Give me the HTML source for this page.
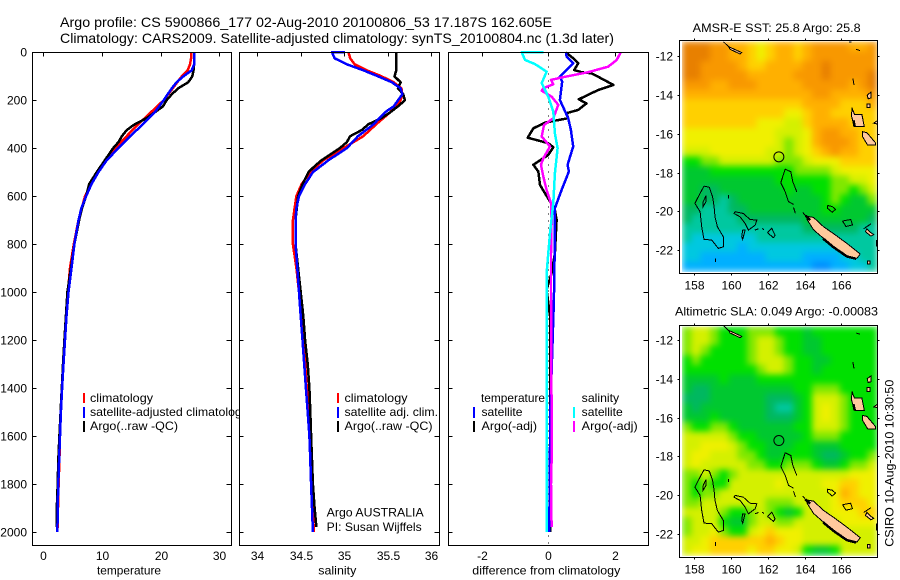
<!DOCTYPE html>
<html lang="en">
<head>
<meta charset="utf-8">
<title>Argo profile chart</title>
<style>
html,body{margin:0;padding:0;background:#fff}
svg{display:block;font-family:"Liberation Sans",sans-serif;fill:#000}
text{font-size:12px}
.ttl{font-size:14px}
</style>
</head>
<body>
<svg id="chart" width="900" height="580" viewBox="0 0 900 580" xmlns="http://www.w3.org/2000/svg">
<defs>
<filter id="smooth" filterUnits="objectBoundingBox" x="0" y="0" width="1" height="1" color-interpolation-filters="sRGB">
<feGaussianBlur stdDeviation="3.2" edgeMode="duplicate"/>
</filter>
</defs>
<rect width="900" height="580" fill="#fff"/>
<g id="p1"></g>
<g>
<rect x="83" y="393" width="2" height="10" fill="#f00"/>
<rect x="83" y="407" width="2" height="11" fill="#00f"/>
<rect x="83" y="421" width="2" height="11" fill="#000"/>
<text x="90" y="402" textLength="63" lengthAdjust="spacingAndGlyphs">climatology</text>
<text x="90" y="416" textLength="158" lengthAdjust="spacingAndGlyphs">satellite-adjusted climatology</text>
<text x="90" y="430" textLength="88" lengthAdjust="spacingAndGlyphs">Argo(..raw -QC)</text>
</g>
<g id="p2"></g>
<g>
<rect x="337" y="393" width="2" height="10" fill="#f00"/>
<rect x="337" y="407" width="2" height="11" fill="#00f"/>
<rect x="337" y="421" width="2" height="11" fill="#000"/>
<text x="344.5" y="402" textLength="63" lengthAdjust="spacingAndGlyphs">climatology</text>
<text x="344.5" y="416" textLength="93.5" lengthAdjust="spacingAndGlyphs">satellite adj. clim.</text>
<text x="344.5" y="430" textLength="88" lengthAdjust="spacingAndGlyphs">Argo(..raw -QC)</text>
<text x="326.7" y="516.5" textLength="97" lengthAdjust="spacingAndGlyphs">Argo AUSTRALIA</text>
<text x="326.7" y="531" textLength="95" lengthAdjust="spacingAndGlyphs">PI: Susan Wijffels</text>
</g>
<g id="p3"></g>
<g>
<text x="481" y="402" textLength="64" lengthAdjust="spacingAndGlyphs">temperature</text>
<text x="581.7" y="402" textLength="37.5" lengthAdjust="spacingAndGlyphs">salinity</text>
<rect x="473" y="407" width="2" height="11" fill="#00f"/>
<rect x="473" y="421" width="2" height="11" fill="#000"/>
<rect x="573" y="407" width="2" height="11" fill="#0ff"/>
<rect x="573" y="421" width="2" height="11" fill="#f0f"/>
<text x="481.5" y="416" textLength="41" lengthAdjust="spacingAndGlyphs">satellite</text>
<text x="481.5" y="430" textLength="55.5" lengthAdjust="spacingAndGlyphs">Argo(-adj)</text>
<text x="581.7" y="416" textLength="41" lengthAdjust="spacingAndGlyphs">satellite</text>
<text x="581.7" y="430" textLength="56" lengthAdjust="spacingAndGlyphs">Argo(-adj)</text>
</g>
<g id="m1"></g>
<g id="m2"></g>
<text class="ttl" x="60" y="27" textLength="492" lengthAdjust="spacingAndGlyphs">Argo profile: CS 5900866_177 02-Aug-2010 20100806_53 17.187S 162.605E</text>
<text class="ttl" x="60" y="43" textLength="554" lengthAdjust="spacingAndGlyphs">Climatology: CARS2009. Satellite-adjusted climatology: synTS_20100804.nc (1.3d later)</text>
<text x="97" y="574.5" textLength="64" lengthAdjust="spacingAndGlyphs">temperature</text>
<text x="318.3" y="574.5" textLength="38" lengthAdjust="spacingAndGlyphs">salinity</text>
<text x="472.3" y="574.5" textLength="148" lengthAdjust="spacingAndGlyphs">difference from climatology</text>
<text x="692.7" y="32" textLength="168" lengthAdjust="spacingAndGlyphs">AMSR-E SST: 25.8 Argo: 25.8</text>
<text x="675" y="315.5" textLength="203" lengthAdjust="spacingAndGlyphs">Altimetric SLA: 0.049 Argo: -0.00083</text>
<text transform="translate(893.5 546.7) rotate(-90)" textLength="167" lengthAdjust="spacingAndGlyphs">CSIRO 10-Aug-2010 10:30:50</text>
</svg>
<script>
// ---------- profile data ----------
const depthTicks = [0,200,400,600,800,1000,1200,1400,1600,1800,2000];
const tempTicks = [0,10,20,30];
const salTicks = [34,34.5,35,35.5,36];
const diffTicks = [-2,0,2];

const depthClim = [0,25,50,75,100,200,300,400,500,600,700,800,900,1000,1100,1200,1300,1400,1500,1600,1700,1800,1900,2000];
const tempClim = [25.2,25.2,25.0,24.6,23.6,20.5,16.2,12.2,9.1,7.1,6.0,5.2,4.55,4.2,3.9,3.65,3.4,3.2,3.0,2.85,2.75,2.6,2.5,2.4];
const depthTempArgo = [50,75,100,125,150,175,200,225,250,275,300,325,350,375,400,450,500,550,600,650,700,800,900,1000,1100,1200,1300,1400,1500,1600,1700,1800,1900,1980];
const tempArgo = [25.7,25.6,25.4,24.7,23,21.9,21,20.4,19,17.6,15.6,14.2,13.4,12.8,11.9,10.5,9.1,7.8,7.3,6.6,6.1,5.3,4.7,4.1,3.85,3.6,3.35,3.15,2.95,2.75,2.55,2.45,2.3,2.25];
const depthTempSat = [0,50,75,100,125,150,200,250,300,350,400,450,500,550,600,650,700,800,900,1000,1100,1200,1300,1400,1500,1600,1700,1800,1900,2000];
const tempSat = [25.7,25.7,25.3,23.9,22.7,21.9,20.5,19,17,14.8,12.8,10.8,9.4,8.2,7.3,6.5,6.0,5.3,4.8,4.3,3.95,3.7,3.45,3.2,3.0,2.85,2.7,2.55,2.45,2.4];

const salClimDepth = [0,25,50,75,100,125,150,175,200,225,250,300,350,400,450,500,550,600,650,700,800,900,1000,1100,1200,1300,1400,1500,1600,1700,1800,1900,2000];
const salClim = [35.05,35.07,35.12,35.26,35.43,35.57,35.66,35.67,35.65,35.58,35.53,35.37,35.22,34.99,34.76,34.61,34.51,34.45,34.43,34.41,34.41,34.45,34.48,34.51,34.53,34.55,34.57,34.59,34.61,34.62,34.63,34.64,34.65];
const salArgoDepth = [0,50,75,100,125,150,175,200,225,250,275,300,325,350,375,400,450,475,500,550,600,700,800,900,1000,1100,1200,1300,1400,1500,1600,1700,1800,1900,1980];
const salArgo = [35.6,35.6,35.6,35.58,35.65,35.62,35.68,35.7,35.62,35.53,35.43,35.28,35.2,35.07,35.03,34.95,34.74,34.66,34.59,34.52,34.47,34.44,34.44,34.47,34.5,34.53,34.55,34.58,34.6,34.61,34.62,34.63,34.64,34.66,34.68];
const salSatDepth = [0,0,25,50,75,100,125,150,175,200,225,250,300,350,400,450,500,550,600,650,700,800,900,1000,1100,1200,1300,1400,1500,1600,1700,1800,1900,2000];
const salSat = [35.01,34.86,34.89,35.03,35.22,35.39,35.55,35.65,35.67,35.62,35.57,35.47,35.34,35.16,35.03,34.82,34.64,34.55,34.48,34.45,34.44,34.44,34.46,34.48,34.5,34.52,34.54,34.56,34.58,34.6,34.61,34.62,34.63,34.64];

const diffTempArgoDepth = [0,25,46,74,83,88,136,157,196,213,240,254,275,293,317,356,379,396,428,469,497,553,588,629,657,699,838,921,990,1100,1500,2000];
const diffTempArgo = [.53,.75,.9,.78,1.0,1.31,1.96,1.51,.92,1.15,.9,.55,.6,-.1,-.45,-.62,0,.15,0,-.45,-.3,-.25,-.1,.08,.2,.25,.2,.1,-.05,.05,.05,.05];
const diffTempSatDepth = [0,18,46,101,122,199,275,324,393,469,497,574,650,782,921,1032,1500,2000];
const diffTempSat = [.53,.55,.75,.35,.42,.35,.6,.68,.75,.58,.62,.4,.2,.2,.18,.17,.06,.03];
const diffSalArgoDepth = [0,32,60,83,105,115,133,150,160,185,219,275,303,351,393,442,469,518,574,629,699,838,1032,1500,1700,1800,1980];
const diffSalArgo = [2.18,2.06,1.8,1.2,.4,.08,.15,-.15,-.2,.1,.3,.15,-.13,-.2,.05,-.15,-.22,-.15,-.05,.08,.1,.08,.08,.1,.1,.08,.1];
const diffSalSatDepth = [0,0,32,49,81,129,185,247,338,400,504,629,754,921,1032,2000];
const diffSalSat = [-.15,-.8,-.7,-.4,-.05,-.2,0,.15,.2,.28,.2,.15,.05,-.05,-.05,-.05];

// ---------- map data ----------
const lonTicks = [158,160,162,164,166];
const latTicks = [-12,-14,-16,-18,-20,-22];
const floatLon = 162.605;
const floatLat = -17.187;

// colour level per half-degree cell, north to south, west to east
const sstLevels = [
[13,13,13,12,12,11,11,10,9,10,11,11,10,11,12,12,12,12,11,11,12],
[13,13,13,12,12,11,11,10,9,10,11,11,10,11,12,12,12,12,12,12,12],
[13,13,12,12,12,12,11,10,10,11,11,11,11,12,12,13,12,12,12,12,12],
[13,13,12,12,12,12,12,11,11,11,11,11,12,12,12,13,12,12,12,12,13],
[12,12,12,11,11,12,12,12,11,11,11,11,11,12,12,12,12,12,11,12,13],
[11,11,11,11,11,11,11,11,11,11,11,11,11,11,12,12,11,11,11,11,12],
[10,10,10,10,10,10,10,10,10,10,10,10,10,11,11,11,11,10,10,10,11],
[10,10,10,10,10,10,10,10,10,10,10,9,9,10,11,11,10,10,10,10,10],
[10,10,10,10,10,10,10,10,9,9,9,8,8,10,11,11,11,11,10,10,10],
[9,9,9,9,9,9,9,9,9,9,8,8,8,9,11,12,12,11,11,10,10],
[9,9,9,9,9,9,9,9,9,9,8,7,8,9,11,12,12,12,11,10,10],
[8,8,8,9,9,9,9,9,9,8,8,7,8,9,10,11,12,11,11,10,10],
[6,6,7,7,8,8,8,8,8,8,7,7,7,8,9,9,9,10,10,10,10],
[5,5,5,6,6,6,6,6,6,6,6,6,7,7,7,7,8,9,9,9,9],
[5,5,5,5,5,5,5,5,5,5,6,6,6,6,6,6,7,7,8,8,9],
[5,5,4,4,5,5,5,5,5,5,5,6,5,5,6,6,7,7,6,7,8],
[5,5,4,4,3,4,5,5,5,5,5,5,5,5,5,6,7,6,5,5,7],
[4,4,3,3,3,4,4,5,5,5,5,5,5,5,5,6,6,5,5,5,5],
[4,3,3,3,3,3,4,4,4,4,4,4,4,5,5,5,5,5,5,5,4],
[3,3,3,3,3,3,3,3,3,3,3,3,3,4,4,4,4,4,4,3,3],
[3,2,2,2,2,2,2,2,3,3,3,3,3,3,3,3,3,3,3,3,3],
[2,2,2,2,2,2,1,2,2,2,2,2,2,2,2,2,2,3,3,3,3],
[2,2,1,1,1,1,1,1,1,2,2,2,2,1,1,1,1,2,2,3,3],
[1,1,1,1,1,1,1,1,1,1,1,1,1,1,0,0,1,1,2,2,3]
];
const slaLevels = [
[7,8,8,7,6,6,6,7,7,7,6,6,6,5,6,6,6,6,6,6,6],
[7,8,8,7,6,6,6,7,8,8,7,6,6,5,5,6,6,6,6,6,6],
[7,8,7,6,6,6,6,7,8,8,7,6,6,5,5,6,6,6,6,6,6],
[6,7,6,6,6,6,6,7,8,8,8,7,6,6,5,5,6,6,6,6,6],
[6,6,6,6,6,6,6,6,7,8,8,7,6,6,5,6,6,6,6,6,6],
[5,5,5,5,6,5,5,5,6,6,6,6,6,6,6,6,6,6,6,6,6],
[5,4,4,5,5,5,5,5,5,5,5,5,6,6,7,7,7,6,6,6,6],
[4,4,4,5,5,5,5,5,5,4,4,4,5,6,8,8,8,7,6,6,6],
[5,4,5,5,5,5,5,5,5,4,3,3,5,6,8,9,8,7,6,6,6],
[5,5,5,6,5,5,5,5,5,4,4,4,5,6,8,9,8,7,6,6,6],
[7,6,6,7,7,6,5,5,5,5,5,5,6,6,8,8,8,7,6,6,6],
[8,8,8,8,8,7,6,6,5,5,5,5,5,6,7,7,7,6,6,6,6],
[8,8,9,9,9,8,7,6,6,5,5,5,6,6,5,5,5,6,6,6,6],
[8,9,9,8,8,8,7,7,6,5,5,6,6,6,5,4,4,5,6,6,7],
[8,9,8,8,8,8,8,7,7,6,6,7,7,7,6,5,5,6,7,7,8],
[7,7,8,7,6,7,8,8,8,8,8,8,8,8,8,8,8,8,9,9,9],
[7,6,7,6,6,8,8,8,8,8,9,8,8,8,8,9,9,10,10,9,9],
[7,6,7,7,8,8,8,8,8,8,8,8,8,8,8,8,9,11,10,9,9],
[7,7,8,8,8,8,8,8,8,7,7,7,8,8,8,8,9,10,10,10,9],
[8,8,8,8,7,6,6,7,8,7,6,5,6,8,8,8,9,9,9,10,10],
[7,8,8,8,6,5,5,7,8,8,7,7,8,8,8,8,8,9,9,9,9],
[7,8,8,9,7,6,6,8,9,10,9,9,9,8,8,8,8,8,8,8,8],
[8,8,9,10,10,10,10,10,10,11,10,9,9,8,8,8,8,8,8,8,8],
[8,9,9,10,10,10,10,9,10,10,9,9,8,6,5,5,6,8,8,8,8]
];
const levelColours = ['#0090ff','#00b0ff','#00c8e0','#00c8a0','#00b860','#00c830','#00e000','#80e800','#d4f000','#f0f000','#ffd000','#ffb000','#f89800','#e88000'];

// coastlines as lon / south-latitude pairs
const landMasses = [
[[164.12,20.25],[164.49,20.32],[165.03,20.8],[165.57,21.15],[166.30,21.66],[167.02,22.2],[166.84,22.43],[166.30,22.3],[165.57,21.82],[165.03,21.4],[164.49,20.95],[164.12,20.4]],
[[166.57,14.65],[166.71,15.0],[167.11,15.0],[167.24,15.63],[166.72,15.63],[166.55,15.11]],
[[167.15,15.89],[167.38,15.94],[167.84,16.46],[167.84,16.58],[167.42,16.58],[167.15,16.15]],
[[167.75,15.45],[167.98,15.3],[167.98,15.5]],
[[159.87,11.5],[160.59,11.81],[160.5,11.88],[159.96,11.64]],
[[167.38,20.9],[167.6,21.1],[167.75,21.2],[167.6,21.28],[167.3,21.05]],
[[167.42,22.55],[167.55,22.55],[167.55,22.72],[167.42,22.72]],
[[167.4,14.0],[167.6,13.85],[167.6,14.15],[167.45,14.2]],
[[167.4,14.45],[167.55,14.45],[167.55,14.65],[167.4,14.65]],
[[167.9,21.5],[168,21.5],[168,21.8],[167.9,21.8]]
];
const coastShadow = [
[[165.0,21.4],[165.57,21.85],[166.30,22.33],[166.8,22.45]],
[[164.05,20.22],[164.3,20.45]],
[[166.65,15.3],[166.72,15.63]]
];
const reefOutlines = [
[[158.54,18.70],[158.83,18.76],[159.01,19.25],[159.09,19.76],[159.14,20.28],[159.27,20.80],[159.59,21.31],[159.59,21.83],[159.32,21.91],[158.96,21.48],[158.54,21.45],[158.42,20.80],[158.33,20.02],[158.05,19.59],[158.33,19.07],[158.54,18.70]],
[[160.23,20.02],[160.68,20.11],[161.04,20.42],[161.41,20.45],[161.32,20.71],[160.95,20.97],[160.77,20.62],[160.5,20.28],[160.17,20.11],[160.23,20.02]],
[[163.58,18.99],[163.36,18.47],[163.25,17.96],[162.95,17.82],[162.71,18.52],[162.95,18.99],[163.13,19.50],[163.40,19.64]],
[[161.99,21.10],[162.22,20.88],[162.40,21.23],[162.31,21.36],[161.99,21.10]],
[[160.64,20.97],[160.77,20.97],[160.64,21.45],[160.59,21.31],[160.64,20.97]],
[[165.25,19.7],[165.5,19.75],[165.68,19.9],[165.5,20.05],[165.25,19.85],[165.25,19.7]],
[[166.06,20.5],[166.5,20.42],[166.6,20.7],[166.25,20.78],[166.06,20.5]],
[[158.5,19.5],[158.65,19.2],[158.65,19.5],[158.5,19.75],[158.5,19.5]],
[[161.3,20.97],[161.5,20.9]],
[[161.7,20.88],[161.8,20.95]],
[[159.18,22.43],[159.18,22.62]],
[[159.87,19.16],[159.87,19.33]],
[[166.62,13.14],[166.68,13.48]],
[[166.8,11.64],[167,11.7]],
[[166.4,11.25],[166.55,11.25]],
[[159.6,11.25],[159.87,11.5]],
[[163.4,19.8],[163.5,20.1]],
[[163.9,20.05],[164.2,20.4]],
[[167.2,20.9],[167.6,20.65]]
];

// ---------- axis functions ----------
const depthY = d => 52.3 + d * 0.2398;
const tempX = t => 43.3 + t * 5.867;
const salX = s => 257.3 + (s - 34) * 86.85;
const diffX = v => 548.3 + v * 33.2;
const lonX = lon => 694 + (lon - 158) * 18.43;
const latY = (lat, y12) => y12 + (lat - 12) * 19.38;

const SVGNS = 'http://www.w3.org/2000/svg';
function mk(tag, parent, name, attrs) {
  const el = document.createElementNS(SVGNS, tag);
  
  
  for (const k in attrs) el.setAttribute(k, attrs[k]);
  parent.appendChild(el);
  return el;
}

function profileLine(g, name, xs, depths, colour, xFn) {
  let pts = '';
  for (let i = 0; i < xs.length; i++) pts += xFn(xs[i]).toFixed(1) + ',' + depthY(depths[i]).toFixed(1) + ' ';
  mk('polyline', g, name, {points: pts, fill: 'none', stroke: colour, 'stroke-width': 2.5, 'stroke-linejoin': 'round', 'shape-rendering': 'crispEdges'});
}

function panelFrame(id, left, right, xTicks, xFn, showDepthLabels) {
  const g = document.getElementById(id);
  const top = 52.5, bottom = 545.5;
  mk('rect', g, 'plot-area', {x: left, y: top, width: right - left, height: bottom - top, fill: '#fff'});
  const seriesGroup = mk('g', g, 'series-group', {});
  const axis = mk('g', g, 'axes', {stroke: '#000', 'stroke-width': 1, 'shape-rendering': 'crispEdges'});
  mk('rect', axis, 'axes-box', {x: left, y: top, width: right - left, height: bottom - top, fill: 'none'});
  depthTicks.forEach(d => {
    const y = Math.round(depthY(d)) + 0.5;
    mk('line', axis, 'y-tick', {x1: left, x2: left + 4, y1: y, y2: y});
    mk('line', axis, 'y-tick', {x1: right - 5, x2: right, y1: y, y2: y});
    if (showDepthLabels) {
      const t = mk('text', g, 'y-tick-label', {x: 27, y: y + 4, 'text-anchor': 'end'});
      t.textContent = d;
    }
  });
  xTicks.forEach(v => {
    const x = Math.round(xFn(v)) + 0.5;
    mk('line', axis, 'x-tick', {x1: x, x2: x, y1: top, y2: top + 4});
    const t = mk('text', g, 'x-tick-label', {x: x, y: 560, 'text-anchor': 'middle'});
    t.textContent = v;
  });
  return seriesGroup;
}

function drawMap(id, levels, boxTop, boxBottom, y12) {
  const g = document.getElementById(id);
  const left = 679.5, right = 877.5;
  const cw = (877 - 682) / levels[0].length;
  const imgTop = boxTop + 1.2, imgBottom = boxBottom - 2.3;
  const ch = (imgBottom - imgTop) / levels.length;
  const imgGroup = mk('g', g, 'heatmap', {filter: 'url(#smooth)'});
  levels.forEach((row, r) => row.forEach((lv, c) => {
    mk('rect', imgGroup, 'heatmap-cell', {x: 682 + c * cw, y: imgTop + r * ch, width: cw + 0.5, height: ch + 0.5, fill: levelColours[lv], 'shape-rendering': 'crispEdges'});
  }));
  const clip = mk('clipPath', g, 'map-clip', {id: id + '-clip'});
  mk('rect', clip, 'map-clip-rect', {x: left, y: boxTop, width: right - left, height: boxBottom - boxTop});
  const coast = mk('g', g, 'coastlines', {'shape-rendering': 'crispEdges', 'clip-path': 'url(#' + id + '-clip)'});
  const toPts = a => a.map(p => lonX(p[0]).toFixed(1) + ',' + latY(p[1], y12).toFixed(1)).join(' ');
  landMasses.forEach(a => mk('polygon', coast, 'land-mass', {points: toPts(a), fill: '#ffc99c', stroke: '#000', 'stroke-width': 1}));
  coastShadow.forEach(a => mk('polyline', coast, 'coast-shadow', {points: toPts(a), fill: 'none', stroke: '#000', 'stroke-width': 2.5}));
  reefOutlines.forEach(a => mk('polyline', coast, 'reef-outline', {points: toPts(a), fill: 'none', stroke: '#000', 'stroke-width': 1}));
  mk('circle', g, 'float-position-marker', {cx: lonX(floatLon), cy: latY(-floatLat, y12), r: 5, fill: 'none', stroke: '#000', 'stroke-width': 1});
  const axis = mk('g', g, 'map-axes', {stroke: '#000', 'stroke-width': 1, 'shape-rendering': 'crispEdges'});
  mk('rect', axis, 'map-box', {x: left, y: boxTop, width: right - left, height: boxBottom - boxTop, fill: 'none'});
  lonTicks.forEach(lon => {
    const x = Math.round(lonX(lon)) + 0.5;
    mk('line', axis, 'lon-tick', {x1: x, x2: x, y1: boxTop - 2, y2: boxTop});
    mk('line', axis, 'lon-tick', {x1: x, x2: x, y1: boxBottom, y2: boxBottom + 2});
    const t = mk('text', g, 'lon-tick-label', {x: x, y: boxBottom + 16, 'text-anchor': 'middle'});
    t.textContent = lon;
  });
  latTicks.forEach(lat => {
    const y = Math.round(latY(-lat, y12)) + 0.5;
    mk('line', axis, 'lat-tick', {x1: left - 2, x2: left, y1: y, y2: y});
    mk('line', axis, 'lat-tick', {x1: right, x2: right + 2, y1: y, y2: y});
    const t = mk('text', g, 'lat-tick-label', {x: 673, y: y + 4, 'text-anchor': 'end'});
    t.textContent = lat;
  });
}

// ---------- build ----------
const s1 = panelFrame('p1', 32.5, 231.5, tempTicks, tempX, true);
profileLine(s1, 'temperature-climatology-line', tempClim, depthClim, '#f00', tempX);
profileLine(s1, 'temperature-argo-line', tempArgo, depthTempArgo, '#000', tempX);
profileLine(s1, 'temperature-satellite-line', tempSat, depthTempSat, '#00f', tempX);

const s2 = panelFrame('p2', 239.5, 439.5, salTicks, salX, false);
profileLine(s2, 'salinity-climatology-line', salClim, salClimDepth, '#f00', salX);
profileLine(s2, 'salinity-argo-line', salArgo, salArgoDepth, '#000', salX);
profileLine(s2, 'salinity-satellite-line', salSat, salSatDepth, '#00f', salX);

const s3 = panelFrame('p3', 448.5, 648.5, diffTicks, diffX, false);
mk('line', s3, 'zero-reference-line', {x1: diffX(0), x2: diffX(0), y1: 52.5, y2: 545.5, stroke: '#000', 'stroke-width': 1, 'stroke-dasharray': '1 6', 'shape-rendering': 'crispEdges'});
profileLine(s3, 'diff-temperature-argo-line', diffTempArgo, diffTempArgoDepth, '#000', diffX);
profileLine(s3, 'diff-temperature-satellite-line', diffTempSat, diffTempSatDepth, '#00f', diffX);
profileLine(s3, 'diff-salinity-argo-line', diffSalArgo, diffSalArgoDepth, '#f0f', diffX);
profileLine(s3, 'diff-salinity-satellite-line', diffSalSat, diffSalSatDepth, '#0ff', diffX);

drawMap('m1', sstLevels, 40.5, 273.5, 56.3);
drawMap('m2', slaLevels, 325.5, 557.5, 340);
</script>
</body>
</html>
